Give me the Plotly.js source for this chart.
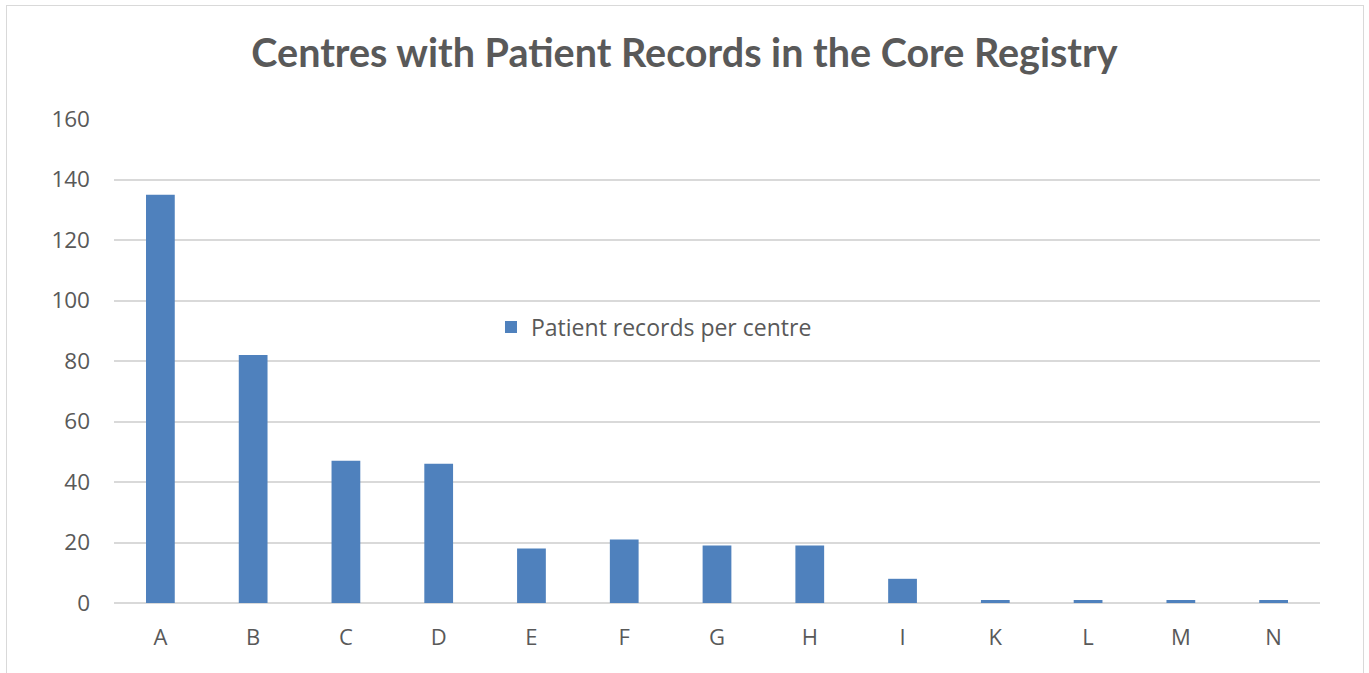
<!DOCTYPE html>
<html><head><meta charset="utf-8">
<script src="https://cdn.plot.ly/plotly-3.0.1.min.js"></script>
<style>
html,body{margin:0;padding:0;background:#fff;}
#wrap{position:relative;width:1369px;height:673px;}
#frame{position:absolute;left:6px;top:5px;width:1358px;height:700px;border:1px solid #d9d9d9;border-bottom:none;box-sizing:border-box;pointer-events:none;}
#chart{position:absolute;left:0;top:0;width:1369px;height:673px;}
</style></head>
<body><div id="wrap"><div id="chart"></div><div id="frame"></div></div>
<script>
const centres = ["A","B","C","D","E","F","G","H","I","K","L","M","N"];
const records = [135,82,47,46,18,21,19,19,8,1,1,1,1];
const seriesName = "Patient records per centre";
const yTicks = [0,20,40,60,80,100,120,140,160];

const titleFont = "Lato, 'Open Sans', sans-serif";
const font = "'Open Sans', Lato, sans-serif";
Plotly.newPlot("chart", [{
  type: "bar", x: centres, y: records, name: seriesName,
  marker: {color: "#4f81bd"}, showlegend: true
}], {
  width: 1369, height: 673,
  margin: {l: 114, r: 49, t: 119, b: 70},
  paper_bgcolor: "rgba(0,0,0,0)", plot_bgcolor: "rgba(0,0,0,0)",
  bargap: 0.69,
  title: {text: "<b>Centres with Patient Records in the Core Registry</b>",
    font: {family: titleFont, size: 39.5, color: "#595959"}, x: 0.5, xanchor: "center", y: 1 - 53/673, yanchor: "middle", yref: "container", xref: "container"},
  xaxis: {type: "category", tickfont: {family: font, size: 22, color: "#595959"}, showline: false, showgrid: false, ticks: "", ticklen: 0, ticklabelstandoff: 19},
  yaxis: {range: [0,160], tickvals: yTicks, tickfont: {family: font, size: 22.5, color: "#595959"},
    showgrid: true, gridcolor: "#d9d9d9", gridwidth: 2, zeroline: true, zerolinecolor: "#d9d9d9", zerolinewidth: 2, ticks: "", showline: false, ticklabelstandoff: 23},
  showlegend: true,
  legend: {x: 0.3126, y: 0.57, xanchor: "left", yanchor: "middle", font: {family: font, size: 23, color: "#595959"}, bgcolor: "rgba(0,0,0,0)"},
  font: {family: font}
}, {displayModeBar: false, staticPlot: true});
</script></body></html>
